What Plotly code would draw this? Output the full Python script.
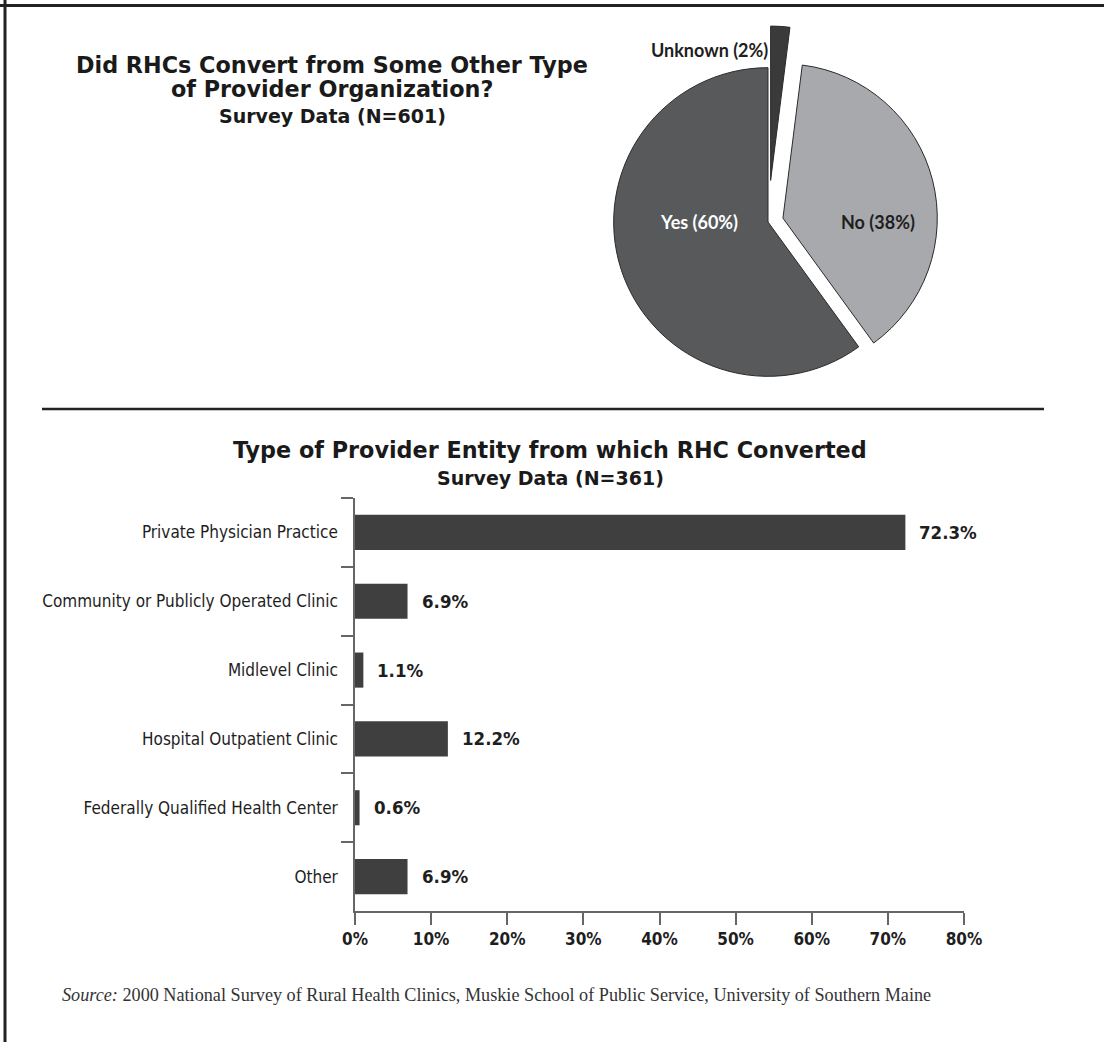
import plotly.graph_objects as go

# ---- data -------------------------------------------------------------
pie_labels = ["Unknown", "No", "Yes"]
pie_values = [2, 38, 60]
pie_colors = ["#3a3a3a", "#a7a9ac", "#58595b"]
pie_pull = [0.27, 0.10, 0.0]

bar_categories = [
    "Private Physician Practice",
    "Community or Publicly Operated Clinic",
    "Midlevel Clinic",
    "Hospital Outpatient Clinic",
    "Federally Qualified Health Center",
    "Other",
]
bar_values = [72.3, 6.9, 1.1, 12.2, 0.6, 6.9]
x_tick_values = [0, 10, 20, 30, 40, 50, 60, 70, 80]
x_tick_labels = ["0%", "10%", "20%", "30%", "40%", "50%", "60%", "70%", "80%"]

W, H = 1104, 1042


def xp(px):
    return px / W


def yp(py):
    return 1 - py / H


TITLE_FONT = "DejaVu Sans, Arial Black, sans-serif"
NARROW_FONT = "Liberation Sans Narrow, DejaVu Sans Condensed, Arial Narrow, sans-serif"
PIE_FONT = "Lato, Century Gothic, sans-serif"
SERIF_FONT = "Liberation Serif, Times New Roman, serif"

fig = go.Figure()

# ---- pie: did the clinic convert? -------------------------------------
fig.add_trace(go.Pie(
    labels=pie_labels,
    values=pie_values,
    sort=False,
    direction="clockwise",
    rotation=0,
    pull=pie_pull,
    marker=dict(colors=pie_colors, line=dict(color="#2a2a2a", width=1)),
    textinfo="none",
    hoverinfo="label+percent",
    showlegend=False,
    domain=dict(x=[xp(768 - 196), xp(768 + 196)], y=[yp(222 + 196), yp(222 - 196)]),
))

# ---- bars: type of provider entity ------------------------------------
fig.add_trace(go.Bar(
    x=bar_values,
    y=bar_categories,
    orientation="h",
    marker=dict(color="#3f3f3f", line=dict(width=0)),
    showlegend=False,
    xaxis="x",
    yaxis="y",
))

annotations = []

# value labels to the right of each bar
for cat, val in zip(bar_categories, bar_values):
    annotations.append(dict(
        x=val, y=cat, xref="x", yref="y", xanchor="left", yanchor="middle",
        xshift=12, text=f"<b>{val:.1f}%</b>", showarrow=False,
        font=dict(family=NARROW_FONT, size=18.5, color="#1e1e1e"),
    ))

# pie slice labels
pie_label_pos = {"Unknown": (709, 50, "#1e1e1e"),
                 "Yes": (699, 222, "#ffffff"),
                 "No": (878, 222, "#1e1e1e")}
for lab, val in zip(pie_labels, pie_values):
    px_, py_, col = pie_label_pos[lab]
    annotations.append(dict(
        x=xp(px_), y=yp(py_), xref="paper", yref="paper",
        xanchor="center", yanchor="middle", showarrow=False,
        text=f"<b>{lab} ({val}%)</b>",
        font=dict(family=PIE_FONT, size=18, color=col),
    ))

# titles
title_lines = [
    ("Did RHCs Convert from Some Other Type", 332, 65, 22.3),
    ("of Provider Organization?", 332, 89, 22.3),
    ("Survey Data (N=601)", 332, 116, 19),
    ("Type of Provider Entity from which RHC Converted", 550, 450, 22.3),
    ("Survey Data (N=361)", 550, 478, 19),
]
for txt, cx, cy, sz in title_lines:
    annotations.append(dict(
        x=xp(cx), y=yp(cy), xref="paper", yref="paper",
        xanchor="center", yanchor="middle", showarrow=False,
        text=f"<b>{txt}</b>",
        font=dict(family=TITLE_FONT, size=sz, color="#1a1a1a"),
    ))

# source note
annotations.append(dict(
    x=xp(60), y=yp(995), xref="paper", yref="paper",
    xanchor="left", yanchor="middle", showarrow=False,
    text="<i>Source:</i> 2000 National Survey of Rural Health Clinics, "
         "Muskie School of Public Service, University of Southern Maine",
    font=dict(family=SERIF_FONT, size=18.2, color="#333333"),
))

shapes = [
    # frame edges (top and left)
    dict(type="line", xref="paper", yref="paper", x0=0, x1=1,
         y0=yp(5.5), y1=yp(5.5), line=dict(color="#222222", width=3)),
    dict(type="line", xref="paper", yref="paper", x0=xp(5), x1=xp(5),
         y0=0, y1=1, line=dict(color="#222222", width=3)),
    # divider between the two panels
    dict(type="line", xref="paper", yref="paper", x0=xp(42), x1=xp(1044),
         y0=yp(409), y1=yp(409), line=dict(color="#222222", width=2.5)),
]

fig.update_layout(
    width=W, height=H,
    autosize=False,
    margin=dict(l=0, r=0, t=0, b=0, pad=0, autoexpand=False),
    paper_bgcolor="white",
    plot_bgcolor="white",
    bargap=0.49,
    annotations=annotations,
    shapes=shapes,
    xaxis=dict(
        domain=[xp(355), xp(964)],
        range=[0, 80],
        tickvals=x_tick_values,
        ticktext=x_tick_labels,
        ticks="outside", ticklen=12, tickwidth=1.5, tickcolor="#666666",
        showline=True, linecolor="#666666", linewidth=1.5,
        showgrid=False, zeroline=False, automargin=False,
        tickfont=dict(family=NARROW_FONT, size=17, color="#1e1e1e", weight="bold"),
        anchor="y",
    ),
    yaxis=dict(
        domain=[yp(911), yp(498)],
        autorange="reversed",
        ticks="outside", tickson="boundaries", ticklen=12, tickwidth=1.5,
        tickcolor="#666666",
        showline=True, linecolor="#666666", linewidth=1.5,
        showgrid=False, zeroline=False, automargin=False,
        ticklabelstandoff=12,
        tickfont=dict(family=NARROW_FONT, size=17, color="#1e1e1e"),
        anchor="x",
    ),
)

fig.write_html("out.html")
